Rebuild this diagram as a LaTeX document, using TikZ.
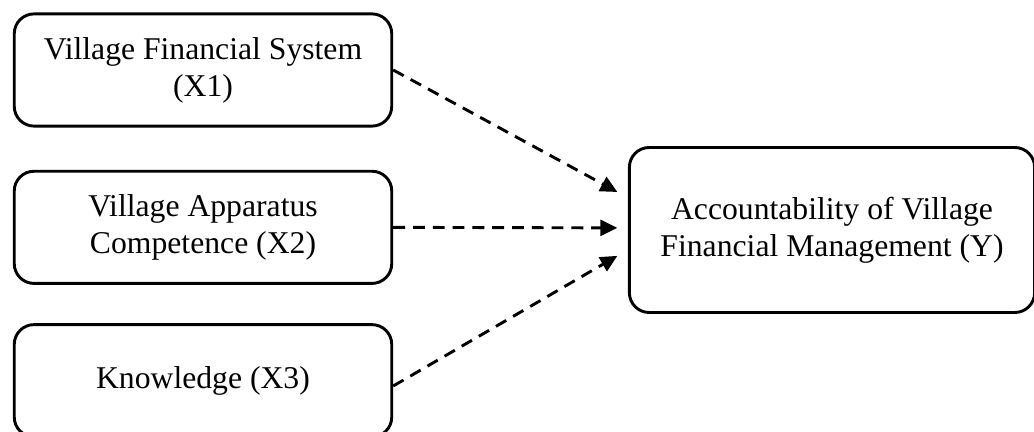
\documentclass[tikz,border=0pt]{standalone}
\usepackage{fontspec}
\setmainfont{Liberation Serif}
\usetikzlibrary{positioning,arrows.meta}

\begin{document}
\begin{tikzpicture}[x=0.3788pt,y=-0.3788pt,>={Triangle[length=6.4pt,width=6pt]},
    var/.style={draw,rounded corners=7.5pt,line width=1.1pt,align=center,
      minimum width=143pt,minimum height=42.5pt,font=\fontsize{12}{14}\selectfont},
    link/.style={->,line width=1.1pt,dash pattern=on 4.5pt off 3pt}]
      \useasboundingbox (0,0) rectangle (1034,432);
      \node[var] (x1) at (203,70) {Village Financial System\\(X1)};
      \node[var,below=16pt of x1] (x2) {Village Apparatus\\Competence (X2)};
      \node[var,below=14.5pt of x2] (x3) {Knowledge (X3)};
      \node[var,minimum width=153.5pt,minimum height=62.5pt] (y) at (832,230)
      {Accountability of Village\\Financial Management (Y)};

      \coordinate (t1) at ([xshift=-4pt,yshift=14.4pt]y.west);
      \coordinate (t2) at ([xshift=-4pt,yshift=0.8pt]y.west);
      \coordinate (t3) at ([xshift=-4pt,yshift=-9.8pt]y.west);
      \draw[link] (x1.east) -- (t1); \draw[link] (x2.east) -- (t2);
      \draw[link] ([yshift=-2pt]x3.east) -- (t3);
    \end{tikzpicture}
\end{document}
